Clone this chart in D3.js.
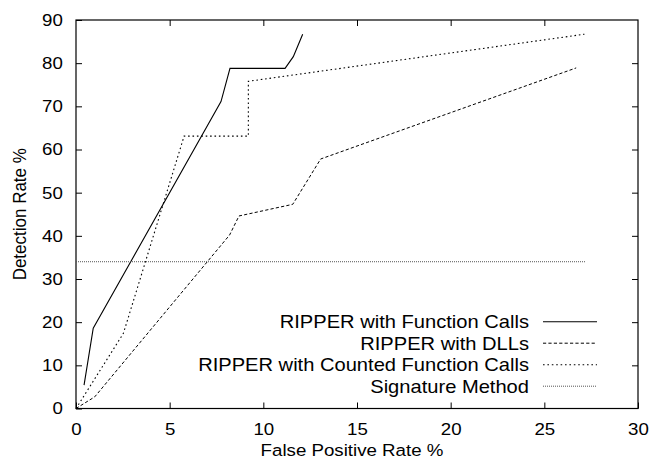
<!DOCTYPE html>
<html>
<head>
<meta charset="utf-8">
<script src="https://cdn.jsdelivr.net/npm/d3@7.9.0/dist/d3.min.js"></script>
<style>
  html, body { margin: 0; padding: 0; background: #fff; }
  svg { display: block; }
  text { font-family: "Liberation Sans", Arial, Helvetica, sans-serif; fill: #000; }
</style>
</head>
<body>
<div id="chart"></div>
<script>
// ====== DATA ======

const xTicks = [0, 5, 10, 15, 20, 25, 30];
const yTicks = [0, 10, 20, 30, 40, 50, 60, 70, 80, 90];

// RIPPER with Function Calls
const funcX = [0.43, 0.92, 7.74, 8.22, 11.16, 11.6, 12.1];
const funcY = [5.4, 18.6, 71.1, 78.8, 78.8, 81.5, 86.7];

// RIPPER with DLLs
const dllX = [0, 1.0, 8.2, 8.7, 11.57, 13.06, 26.7];
const dllY = [0, 2.7, 40.2, 44.6, 47.3, 57.8, 78.9];

// RIPPER with Counted Function Calls
const countX = [0, 2.53, 5.77, 9.2, 9.2, 27.14];
const countY = [0, 17.4, 63.1, 63.1, 75.8, 86.7];

// Signature Method
const sigX = [0, 27.2];
const sigY = [34, 34];

const seriesNames = [
  'RIPPER with Function Calls',
  'RIPPER with DLLs',
  'RIPPER with Counted Function Calls',
  'Signature Method'
];

// ====== LAYOUT ======

const width = 650, height = 466;
const margin = { top: 20, right: 12, bottom: 57.5, left: 76 };
const SX = 1.1; // horizontal stretch of the glyphs in the reference
const FONT = 17;
const LEGEND_FONT = 17.5;
const LEGEND_SX = 1.15;

const styles = [
  { dash: null, color: '#000', w: 1.1 },
  { dash: '3.2,2.2', color: '#000', w: 1 },
  { dash: '1.6,2.8', color: '#000', w: 1.1 },
  { dash: '1,1', color: '#555', w: 1 }
];

const series = [
  { xs: funcX, ys: funcY },
  { xs: dllX, ys: dllY },
  { xs: countX, ys: countY },
  { xs: sigX, ys: sigY }
].map((s, i) => ({
  name: seriesNames[i],
  style: styles[i],
  points: s.xs.map((x, j) => [x, s.ys[j]])
}));

const svg = d3.select('#chart').append('svg')
  .attr('width', width)
  .attr('height', height);

const x = d3.scaleLinear().domain([0, 30]).range([margin.left, width - margin.right]);
const y = d3.scaleLinear().domain([0, 90]).range([height - margin.bottom, margin.top]);

function stretch(sel) {
  sel.attr('transform', `scale(${SX},1)`);
}

// ====== AXES ======

svg.append('g')
  .attr('transform', `translate(0,${y(0)})`)
  .call(d3.axisBottom(x).tickValues(xTicks).tickSizeInner(-6).tickSizeOuter(0).tickPadding(14));

svg.append('g')
  .attr('transform', `translate(${x(0)},0)`)
  .call(d3.axisLeft(y).tickValues(yTicks).tickSizeInner(-6).tickSizeOuter(0).tickPadding(12));

svg.append('g')
  .attr('transform', `translate(0,${y(90)})`)
  .call(d3.axisTop(x).tickValues(xTicks.slice(1, -1)).tickSizeInner(-6).tickSizeOuter(0).tickFormat(''));

svg.append('g')
  .attr('transform', `translate(${x(30)},0)`)
  .call(d3.axisRight(y).tickValues(yTicks.slice(1, -1)).tickSizeInner(-6).tickSizeOuter(0).tickFormat(''));

svg.selectAll('.domain').remove();
svg.selectAll('.tick line').attr('stroke', '#000').attr('stroke-width', 1);
svg.selectAll('.tick text')
  .attr('font-size', FONT)
  .attr('font-family', '"Liberation Sans", Arial, sans-serif')
  .call(stretch);

// frame
svg.append('rect')
  .attr('x', x(0))
  .attr('y', y(90))
  .attr('width', x(30) - x(0))
  .attr('height', y(0) - y(90))
  .attr('fill', 'none')
  .attr('stroke', '#000')
  .attr('stroke-width', 1.2);

// axis titles
svg.append('text')
  .attr('transform', `translate(352,456) scale(${SX},1)`)
  .attr('text-anchor', 'middle')
  .attr('font-size', FONT)
  .text('False Positive Rate %');

svg.append('text')
  .attr('transform', `translate(26,${(y(0) + y(90)) / 2}) rotate(-90) scale(1,${SX})`)
  .attr('text-anchor', 'middle')
  .attr('font-size', FONT)
  .text('Detection Rate %');

// ====== LINES ======

const line = d3.line().x(d => x(d[0])).y(d => y(d[1]));

svg.append('g')
  .selectAll('path')
  .data(series)
  .join('path')
  .attr('d', d => line(d.points))
  .attr('fill', 'none')
  .attr('stroke', d => d.style.color)
  .attr('stroke-width', d => d.style.w)
  .attr('stroke-dasharray', d => d.style.dash);

// ====== LEGEND ======

const legend = svg.append('g');
const rowY = i => 321.7 + i * 21.5;

legend.selectAll('text')
  .data(series)
  .join('text')
  .attr('transform', (d, i) => `translate(529,${rowY(i)}) scale(${LEGEND_SX},1)`)
  .attr('dy', '0.36em')
  .attr('text-anchor', 'end')
  .attr('font-size', LEGEND_FONT)
  .text(d => d.name);

legend.selectAll('line')
  .data(series)
  .join('line')
  .attr('x1', 543)
  .attr('x2', 597)
  .attr('y1', (d, i) => rowY(i))
  .attr('y2', (d, i) => rowY(i))
  .attr('stroke', d => d.style.color)
  .attr('stroke-width', d => d.style.w)
  .attr('stroke-dasharray', d => d.style.dash);
</script>
</body>
</html>
